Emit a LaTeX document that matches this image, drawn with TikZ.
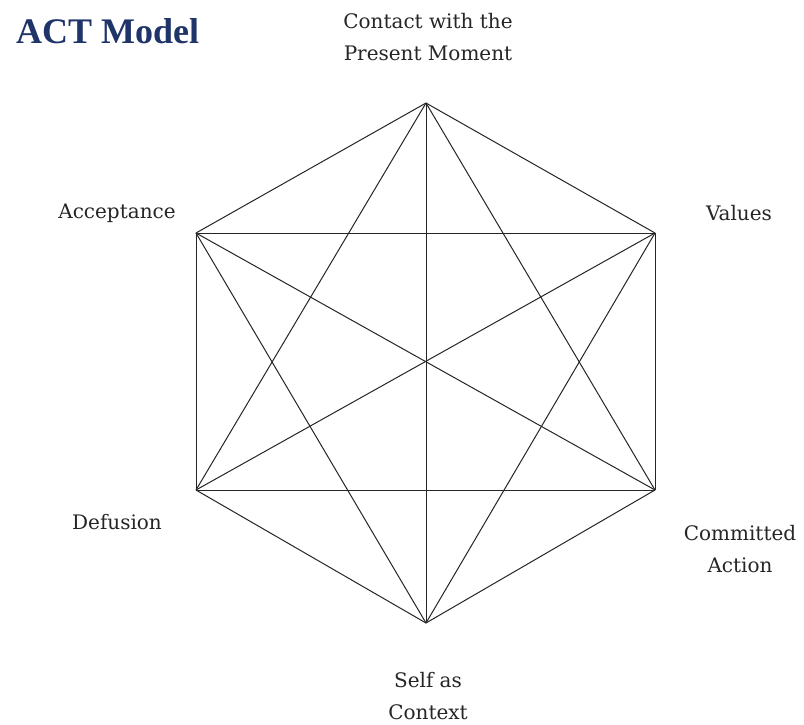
\documentclass[tikz,border=0pt]{standalone}
\usepackage{fontspec}
\setmainfont{DejaVu Serif}
\newfontfamily\titlefont{Liberation Serif}
\definecolor{titleblue}{HTML}{1F3468}
\begin{document}
\begin{tikzpicture}[x=1pt,y=-1pt,
  lbl/.style={font=\fontsize{20}{32}\selectfont, align=center, inner sep=0pt, text=black!85},
  edge/.style={draw=black!85, line width=1pt}]
\useasboundingbox[fill=white] (0,0) rectangle (804,724);
\node[font=\titlefont\bfseries\fontsize{36}{40}\selectfont, text=titleblue, anchor=west, inner sep=0pt] (title) at (16,31) {ACT Model};
\coordinate (T) at (426,103);
\coordinate (UL) at (196,233);
\coordinate (UR) at (655,233);
\coordinate (LL) at (196,490);
\coordinate (LR) at (655,490);
\coordinate (B) at (426,623);
\foreach \a/\b in {T/UL,T/UR,T/LL,T/LR,T/B,UL/UR,UL/LL,UL/LR,UL/B,UR/LL,UR/LR,UR/B,LL/LR,LL/B,LR/B}
  \draw[edge] (\a) -- (\b);
\node[lbl] (present) at (428,37) {Contact with the\\Present Moment};
\node[lbl] (accept) at (117,213) {Acceptance};
\node[lbl] (values) at (739,213) {Values};
\node[lbl] (defusion) at (117,522) {Defusion};
\node[lbl] (committed) at (740,549) {Committed\\Action};
\node[lbl] (self) at (428,696) {Self as\\Context};
\end{tikzpicture}
\end{document}
